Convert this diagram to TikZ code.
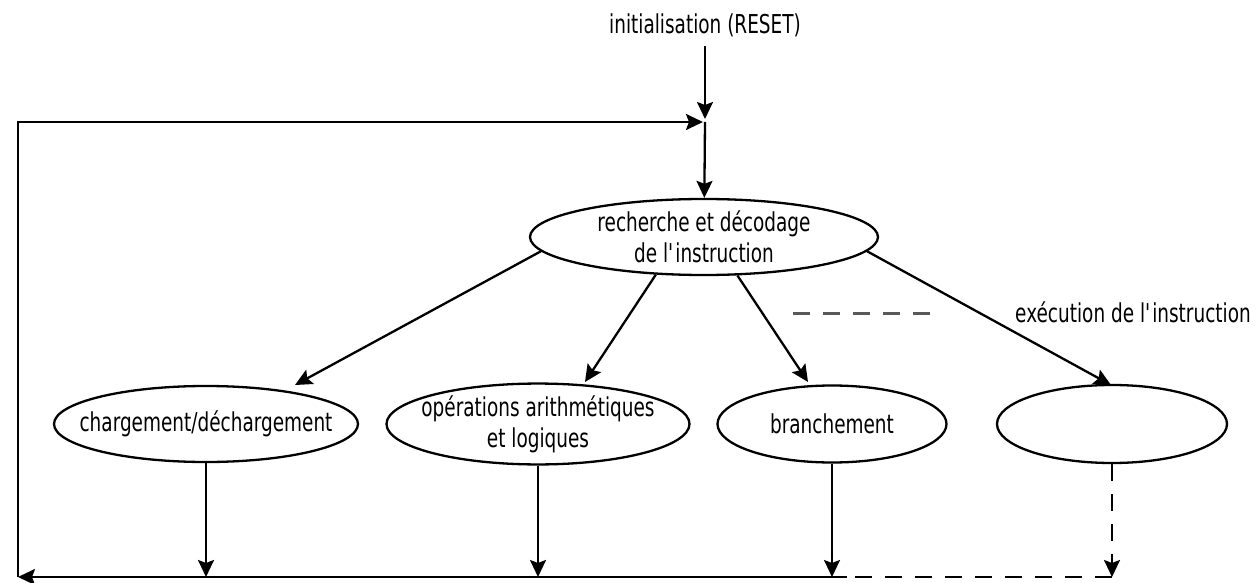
\documentclass[tikz,border=0pt]{standalone}
\usepackage{fontspec}
\setmainfont[FakeStretch=0.71]{DejaVu Sans}
\usetikzlibrary{arrows.meta,shapes.geometric}

\newcommand{\slim}[1]{\makebox[0pt]{#1}}

\begin{document}
\begin{tikzpicture}[x=1pt,y=-1pt,
    every node/.style={font=\fontsize{26}{31}\selectfont},
    flow/.style={-{Stealth[length=17pt,width=16pt,inset=3pt]},line width=2.3pt},
    task/.style={draw,ellipse,line width=2.3pt,inner sep=0pt,align=center},
    dash17/.style={line width=2.3pt,dash pattern=on 17pt off 13pt}]

    \useasboundingbox (0,0) rectangle (1259,583);

    % limits
    \def\B{577}

    % nodes
    \node[inner ysep=9pt] (reset) at (705,25) {initialisation (RESET)};
    \coordinate (jn) at (705,122);
    \node[task,minimum width=348pt,minimum height=76pt] (fetch) at (704,237)
        {\slim{recherche et décodage}\\\slim{de l\textquotesingle instruction}};
    \node[task,minimum width=304pt,minimum height=76pt] (load) at (206,424) {\slim{chargement/déchargement}};
    \node[task,minimum width=303pt,minimum height=77pt] (alu) at (538,424)
        {\slim{opérations arithmétiques}\\\slim{et logiques}};
    \node[task,minimum width=229pt,minimum height=77pt] (branch) at (832,424) {\slim{branchement}};
    \node[task,minimum width=230pt,minimum height=78pt] (exec) at (1112,424) {};
    \node (execlabel) at (1133,312) {exécution de l\textquotesingle instruction};

    % corners of the loop
    \coordinate (bl) at (18,\B);
    \coordinate (br) at (847,\B);
    \coordinate (be) at (1112,\B);

    % lines
    %%% entry
    \draw[flow,shorten >=3pt] (reset) -- (jn);
    \draw[flow] (jn) -- (fetch);
    %%% dispatch
    \draw[flow] (fetch.185) -- ([shift={(89,-39)}]load.center);
    \draw[flow] (fetch.218) -- ([shift={(47,-42)}]alu.center);
    \draw[flow] (fetch.311) -- ([shift={(-24,-42)}]branch.center);
    \draw[flow] (fetch.355) -- ([shift={(-1,-39)}]exec.center);
    \draw[dash17,draw=black!65,line width=3pt] (793,313) -- (930,313);
    %%% back to the start
    \foreach \n in {load,alu,branch}{
        \draw[flow] (\n.south) -- (\n.south |- bl);
    }
    \draw[flow,dash17] (exec.south) -- (be);
    \draw[dash17] (be) -- (br);
    \draw[flow] (br) -- (bl);
    \draw[flow,shorten >=2pt] (bl) |- (jn);

\end{tikzpicture}
\end{document}
